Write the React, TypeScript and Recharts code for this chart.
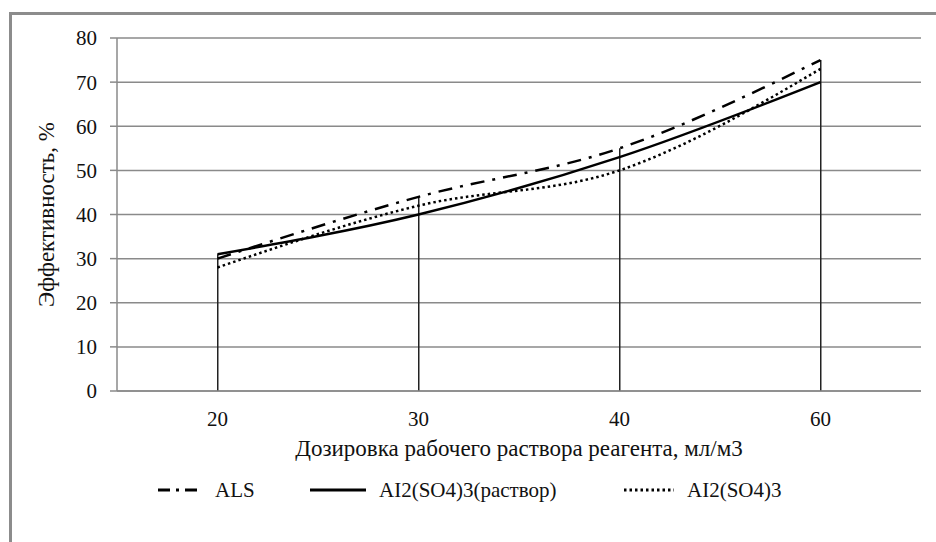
// Efficiency vs reagent dose, Excel-style line chart with drop lines

import {
  ComposedChart,
  Line,
  Bar,
  XAxis,
  YAxis,
  CartesianGrid,
} from "recharts";

const doses = ["20", "30", "40", "60"];
const alsValues = [30, 44, 55, 75];
const solutionValues = [31, 40, 53, 70];
const dryValues = [28, 42, 50, 73];
const yTicks = [0, 10, 20, 30, 40, 50, 60, 70, 80];

const seriesNames = ["ALS", "AI2(SO4)3(раствор)", "AI2(SO4)3"];

const data = doses.map((dose, i) => ({
  dose,
  als: alsValues[i],
  solution: solutionValues[i],
  dry: dryValues[i],
  drop: Math.max(alsValues[i], solutionValues[i], dryValues[i]),
}));

const FONT = "'Liberation Serif', 'Times New Roman', serif";
const GRID = "#8a8a8a";

const legendItems = [
  { name: seriesNames[0], dash: "12 6 3 6", left: 158, width: 44 },
  { name: seriesNames[1], dash: undefined, left: 310, width: 56 },
  { name: seriesNames[2], dash: "2.5 3", left: 624, width: 50 },
];

const App = () => {
  return (
    <div
      style={{
        position: "absolute",
        left: 0,
        top: 0,
        width: 936,
        height: 542,
        background: "#fff",
        overflow: "hidden",
        fontFamily: FONT,
      }}
    >
      {/* chart frame, only left and top edges are inside the picture */}
      <div
        style={{
          position: "absolute",
          left: 9,
          top: 12,
          width: 960,
          height: 560,
          border: "3px solid #8c8c8c",
          boxSizing: "border-box",
        }}
      />

      <ComposedChart
        width={936}
        height={542}
        data={data}
        margin={{ top: 38, right: 15, bottom: 76, left: 0 }}
        style={{ position: "absolute", left: 0, top: 0, fontFamily: FONT }}
      >
        <CartesianGrid vertical={false} stroke={GRID} strokeWidth={1.5} />

        <XAxis
          dataKey="dose"
          height={75}
          axisLine={{ stroke: GRID, strokeWidth: 1.5 }}
          tickLine={false}
          tickSize={0}
          tickMargin={20}
          tick={{ fill: "#111", fontSize: 21, fontFamily: FONT }}
          label={{
            value: "Дозировка рабочего раствора реагента, мл/м3",
            position: "insideBottom",
            offset: 10,
            fill: "#111",
            fontSize: 23,
            fontFamily: FONT,
          }}
        />

        <YAxis
          width={117}
          domain={[0, 80]}
          ticks={yTicks}
          interval={0}
          axisLine={{ stroke: GRID, strokeWidth: 1.5 }}
          tickLine={{ stroke: GRID, strokeWidth: 1.5 }}
          tickSize={7}
          tickMargin={13}
          tick={{ fill: "#111", fontSize: 21, fontFamily: FONT }}
          label={{
            value: "Эффективность, %",
            angle: -90,
            position: "center",
            dx: -13,
            fill: "#111",
            fontSize: 23,
            fontFamily: FONT,
          }}
        />

        {/* drop lines from the axis to the highest series */}
        <Bar dataKey="drop" barSize={1.5} fill="#222" isAnimationActive={false} />

        <Line
          type="monotone"
          dataKey="dry"
          name={seriesNames[2]}
          stroke="#000"
          strokeWidth={2.5}
          strokeDasharray="2.5 3"
          dot={false}
          isAnimationActive={false}
        />
        <Line
          type="monotone"
          dataKey="solution"
          name={seriesNames[1]}
          stroke="#000"
          strokeWidth={2.5}
          dot={false}
          isAnimationActive={false}
        />
        <Line
          type="monotone"
          dataKey="als"
          name={seriesNames[0]}
          stroke="#000"
          strokeWidth={2.5}
          strokeDasharray="14 8 3 8"
          dot={false}
          isAnimationActive={false}
        />
      </ComposedChart>

      {/* legend */}
      {legendItems.map((item) => (
        <div
          key={item.name}
          style={{
            position: "absolute",
            left: item.left,
            top: 477,
            height: 26,
            display: "flex",
            alignItems: "center",
            fontSize: 21,
            color: "#111",
            whiteSpace: "nowrap",
          }}
        >
          <svg width={item.width} height={10} style={{ marginRight: 13 }}>
            <line
              x1={0}
              y1={5}
              x2={item.width}
              y2={5}
              stroke="#000"
              strokeWidth={3}
              strokeDasharray={item.dash}
            />
          </svg>
          {item.name}
        </div>
      ))}
    </div>
  );
};

export default App;
